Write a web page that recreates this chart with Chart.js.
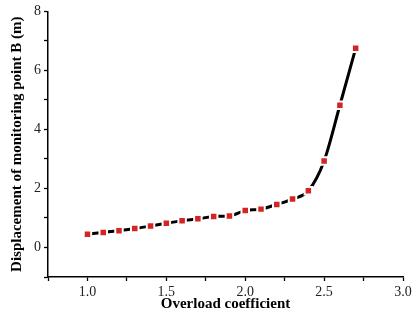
<!DOCTYPE html>
<html>
<head>
<meta charset="utf-8">
<script src="https://cdn.jsdelivr.net/npm/chart.js@4"></script>
<style>
  html, body { margin: 0; padding: 0; background: #fff; }
  #wrap { width: 412px; height: 322px; }
</style>
</head>
<body>
<div id="wrap"><canvas id="chart" width="412" height="322"></canvas></div>
<script>
// overload coefficient vs displacement of monitoring point B
const overload = [1.0, 1.1, 1.2, 1.3, 1.4, 1.5, 1.6, 1.7, 1.8, 1.9, 2.0, 2.1, 2.2, 2.3, 2.4, 2.5, 2.6, 2.7];
const displacement = [0.45, 0.51, 0.57, 0.64, 0.73, 0.82, 0.91, 0.97, 1.05, 1.07, 1.25, 1.30, 1.46, 1.64, 1.92, 2.93, 4.82, 6.75];
const xTickLabels = ["1.0", "1.5", "2.0", "2.5", "3.0"];
const yTickLabels = ["0", "2", "4", "6", "8"];

const serif = "'Liberation Serif', 'Times New Roman', serif";

const points = overload.map((x, i) => ({ x: x, y: displacement[i] }));

new Chart(document.getElementById("chart").getContext("2d"), {
  type: "line",
  data: {
    datasets: [{
      data: points,
      borderColor: "#000",
      borderWidth: 3,
      cubicInterpolationMode: "monotone",
      pointStyle: "rect",
      pointRadius: 5.3,
      pointBackgroundColor: "#d42424",
      pointBorderColor: "#fff",
      pointBorderWidth: 2,
      fill: false
    }]
  },
  options: {
    responsive: false,
    animation: false,
    events: [],
    layout: { padding: { top: 10, right: 0, left: 0, bottom: 9 } },
    plugins: { legend: { display: false }, tooltip: { enabled: false } },
    scales: {
      x: {
        type: "linear",
        min: 0.75,
        max: 3.0,
        afterFit: s => { s.height = 36; s.paddingRight = 9; },
        ticks: {
          stepSize: 0.25,
          autoSkip: false,
          maxRotation: 0,
          padding: 3,
          color: "#222",
          font: { family: serif, size: 14 },
          callback: v => {
            const t = v.toFixed(1);
            return Math.abs(v * 2 - Math.round(v * 2)) < 1e-6 && xTickLabels.includes(t) ? t : "";
          }
        },
        grid: { drawOnChartArea: false, tickLength: 4, tickColor: "#000", tickWidth: 1.3 },
        border: { color: "#000", width: 1.5 },
        title: {
          display: true,
          text: "Overload coefficient",
          color: "#000",
          font: { family: serif, size: 15, weight: "bold" },
          padding: { top: 0, bottom: 0 }
        }
      },
      y: {
        min: -1,
        max: 8,
        afterFit: s => { s.width = 48; },
        ticks: {
          stepSize: 1,
          autoSkip: false,
          padding: 3,
          color: "#222",
          font: { family: serif, size: 14 },
          callback: v => yTickLabels.includes(String(v)) ? String(v) : ""
        },
        grid: { drawOnChartArea: false, tickLength: 4, tickColor: "#000", tickWidth: 1.3 },
        border: { color: "#000", width: 1.5 },
        title: {
          display: true,
          text: "Displacement of monitoring point B (m)",
          color: "#000",
          font: { family: serif, size: 15, weight: "bold" },
          padding: { top: 8, bottom: 0 }
        }
      }
    }
  }
});
</script>
</body>
</html>
